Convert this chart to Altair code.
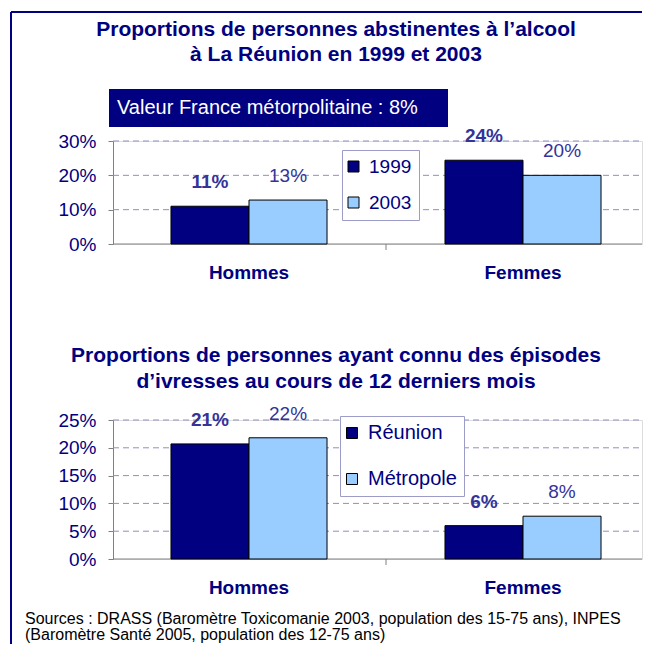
import altair as alt
import pandas as pd

# ---------------- data ----------------
categories = ["Hommes", "Femmes"]

years = ["1999", "2003"]
abst_1999 = [0.110, 0.244]
abst_2003 = [0.128, 0.200]
top_ticks = [0, 0.10, 0.20, 0.30]

zones = ["Réunion", "Métropole"]
ivr_reunion = [0.207, 0.060]
ivr_metropole = [0.218, 0.077]
bottom_ticks = [0, 0.05, 0.10, 0.15, 0.20, 0.25]

top_title = ["Proportions de personnes abstinentes à l’alcool",
             "à La Réunion en 1999 et 2003"]
bottom_title = ["Proportions de personnes ayant connu des épisodes",
                "d’ivresses au cours de 12 derniers mois"]
note_box = ["Valeur France métorpolitaine : 8%"]
sources = ["Sources : DRASS (Baromètre Toxicomanie 2003, population des 15-75 ans), INPES",
           "(Baromètre Santé 2005, population des 12-75 ans)"]

# ---------------- style ----------------
NAVY = "#000080"
LIGHT = "#99CCFF"
LABEL = "#333399"
GRID = "#8f8fbf"
AXIS = "#808080"
FONT = "Liberation Sans"
W = 529

top_df = pd.DataFrame({
    "cat": categories * 2,
    "year": [years[0]] * 2 + [years[1]] * 2,
    "value": abst_1999 + abst_2003,
})
bot_df = pd.DataFrame({
    "cat": categories * 2,
    "zone": [zones[0]] * 2 + [zones[1]] * 2,
    "value": ivr_reunion + ivr_metropole,
})
cat_df = pd.DataFrame({"cat": categories})
one = pd.DataFrame({"k": [0]})


def x_enc(band_pos=None):
    kw = {}
    if band_pos is not None:
        kw["bandPosition"] = band_pos
    return alt.X(
        "cat:N", sort=categories,
        scale=alt.Scale(domain=categories, range=[-1, 547], paddingInner=0, paddingOuter=0),
        axis=None, **kw)


def y_enc(ymax, ticks):
    return alt.Y(
        "value:Q",
        scale=alt.Scale(domain=[0, ymax], nice=False, zero=True),
        axis=alt.Axis(title=None, values=ticks, format=".0%",
                      grid=False, labelOverlap=False,
                      domainColor=AXIS, tickColor=AXIS, tickSize=5, labelPadding=12,
                      labelFontSize=19, labelColor=NAVY, labelFont=FONT))


def panel(df, sfield, sdom, ymax, ticks, height, leg, title_ys, extra):
    xo = alt.XOffset(f"{sfield}:N", sort=sdom,
                     scale=alt.Scale(domain=sdom, paddingInner=0, paddingOuter=0.756))
    y = y_enc(ymax, ticks)
    x = x_enc()
    color = alt.Color(
        f"{sfield}:N", sort=sdom,
        scale=alt.Scale(domain=sdom, range=[NAVY, LIGHT]),
        legend=alt.Legend(title=None, orient="none", legendX=leg["x"], legendY=leg["y"],
                          fillColor="white", strokeColor="#9c9cc8", padding=leg["pad"],
                          rowPadding=leg["row"], symbolType="square", symbolSize=121,
                          symbolStrokeColor="black", symbolStrokeWidth=1,
                          symbolOffset=leg["off"], labelOffset=6,
                          labelFontSize=leg["fs"], labelColor=NAVY, labelFont=FONT))
    base = alt.Chart(df)
    grid = alt.Chart(pd.DataFrame({"value": ticks[1:]})).mark_rule(
        color=GRID, strokeWidth=1, strokeDash=[6, 4]).encode(
        y=y, x=alt.value(0), x2=alt.value(W))
    baseline = alt.Chart(pd.DataFrame({"value": ticks[:1]})).mark_rule(
        color=AXIS, strokeWidth=1).encode(y=y, x=alt.value(0), x2=alt.value(W))
    bars = base.mark_bar(stroke="black", strokeWidth=1).encode(x=x, xOffset=xo, y=y, color=color)
    lab_a = base.transform_filter(alt.datum[sfield] == sdom[0]).mark_text(
        dy=-24, baseline="middle", fontSize=19, fontWeight="bold", color=LABEL, font=FONT
    ).encode(x=x, xOffset=xo, y=y, text=alt.Text("value:Q", format=".0%"))
    lab_b = base.transform_filter(alt.datum[sfield] == sdom[1]).mark_text(
        dy=-24, baseline="middle", fontSize=19, color=LABEL, font=FONT
    ).encode(x=x, xOffset=xo, y=y, text=alt.Text("value:Q", format=".0%"))
    sep = alt.Chart(pd.DataFrame({"cat": categories[1:]})).mark_rule(
        color=AXIS, strokeWidth=1).encode(
        x=x_enc(0), y=alt.value(height), y2=alt.value(height + 6))
    cat_labels = alt.Chart(cat_df).mark_text(
        fontSize=19, fontWeight="bold", color=NAVY, font=FONT, baseline="top"
    ).encode(x=x, text="cat:N", y=alt.value(height + 20))
    titles = [
        alt.Chart(pd.DataFrame({"t": [t]})).mark_text(
            fontSize=21, fontWeight="bold", color=NAVY, font=FONT,
            align="center", baseline="alphabetic"
        ).encode(text="t:N", x=alt.value(223), y=alt.value(ty))
        for t, ty in zip(*title_ys)
    ]
    layers = [grid, baseline, bars, sep, lab_a, lab_b, cat_labels] + titles + extra
    return alt.layer(*layers).properties(width=W, height=height)


# frame + note box for the top panel
frame_top = alt.Chart(one).mark_rule(color=NAVY, strokeWidth=2).encode(
    x=alt.value(-102), x2=alt.value(W), y=alt.value(-129))
frame_left = alt.Chart(one).mark_rule(color=NAVY, strokeWidth=2).encode(
    x=alt.value(-102), y=alt.value(-129), y2=alt.value(503))
box = alt.Chart(one).mark_rect(color=NAVY).encode(
    x=alt.value(-4), x2=alt.value(335), y=alt.value(-52), y2=alt.value(-14))
box_text = alt.Chart(pd.DataFrame({"t": note_box})).mark_text(
    color="white", fontSize=20, font=FONT, align="left", baseline="middle"
).encode(text="t:N", x=alt.value(4), y=alt.value(-33))

src = [
    alt.Chart(pd.DataFrame({"t": [s]})).mark_text(
        color="black", fontSize=16, font=FONT, align="left", baseline="alphabetic"
    ).encode(text="t:N", x=alt.value(-88), y=alt.value(sy))
    for s, sy in zip(sources, [204, 220])
]

top = panel(top_df, "year", years, 0.30, top_ticks, 103,
            {"x": 229, "y": 9, "pad": 7, "row": 16, "off": -5, "fs": 19},
            (top_title, [-105, -80]), [frame_top, frame_left, box, box_text])
bottom = panel(bot_df, "zone", zones, 0.25, bottom_ticks, 139,
               {"x": 227, "y": -4, "pad": 7, "row": 26, "off": -5, "fs": 20},
               (bottom_title, [-58, -32]), src)

chart = alt.vconcat(top, bottom, spacing=176, bounds="flush").resolve_scale(
    color="independent", xOffset="independent", y="independent", x="independent"
).properties(
    padding={"left": 1, "top": 2, "right": 0, "bottom": 0},
    background="white",
).configure_view(stroke=None).configure_axis(labelOverlap=False).configure(font=FONT)

chart.save("out.html", embed_options={"renderer": "svg", "actions": False})
